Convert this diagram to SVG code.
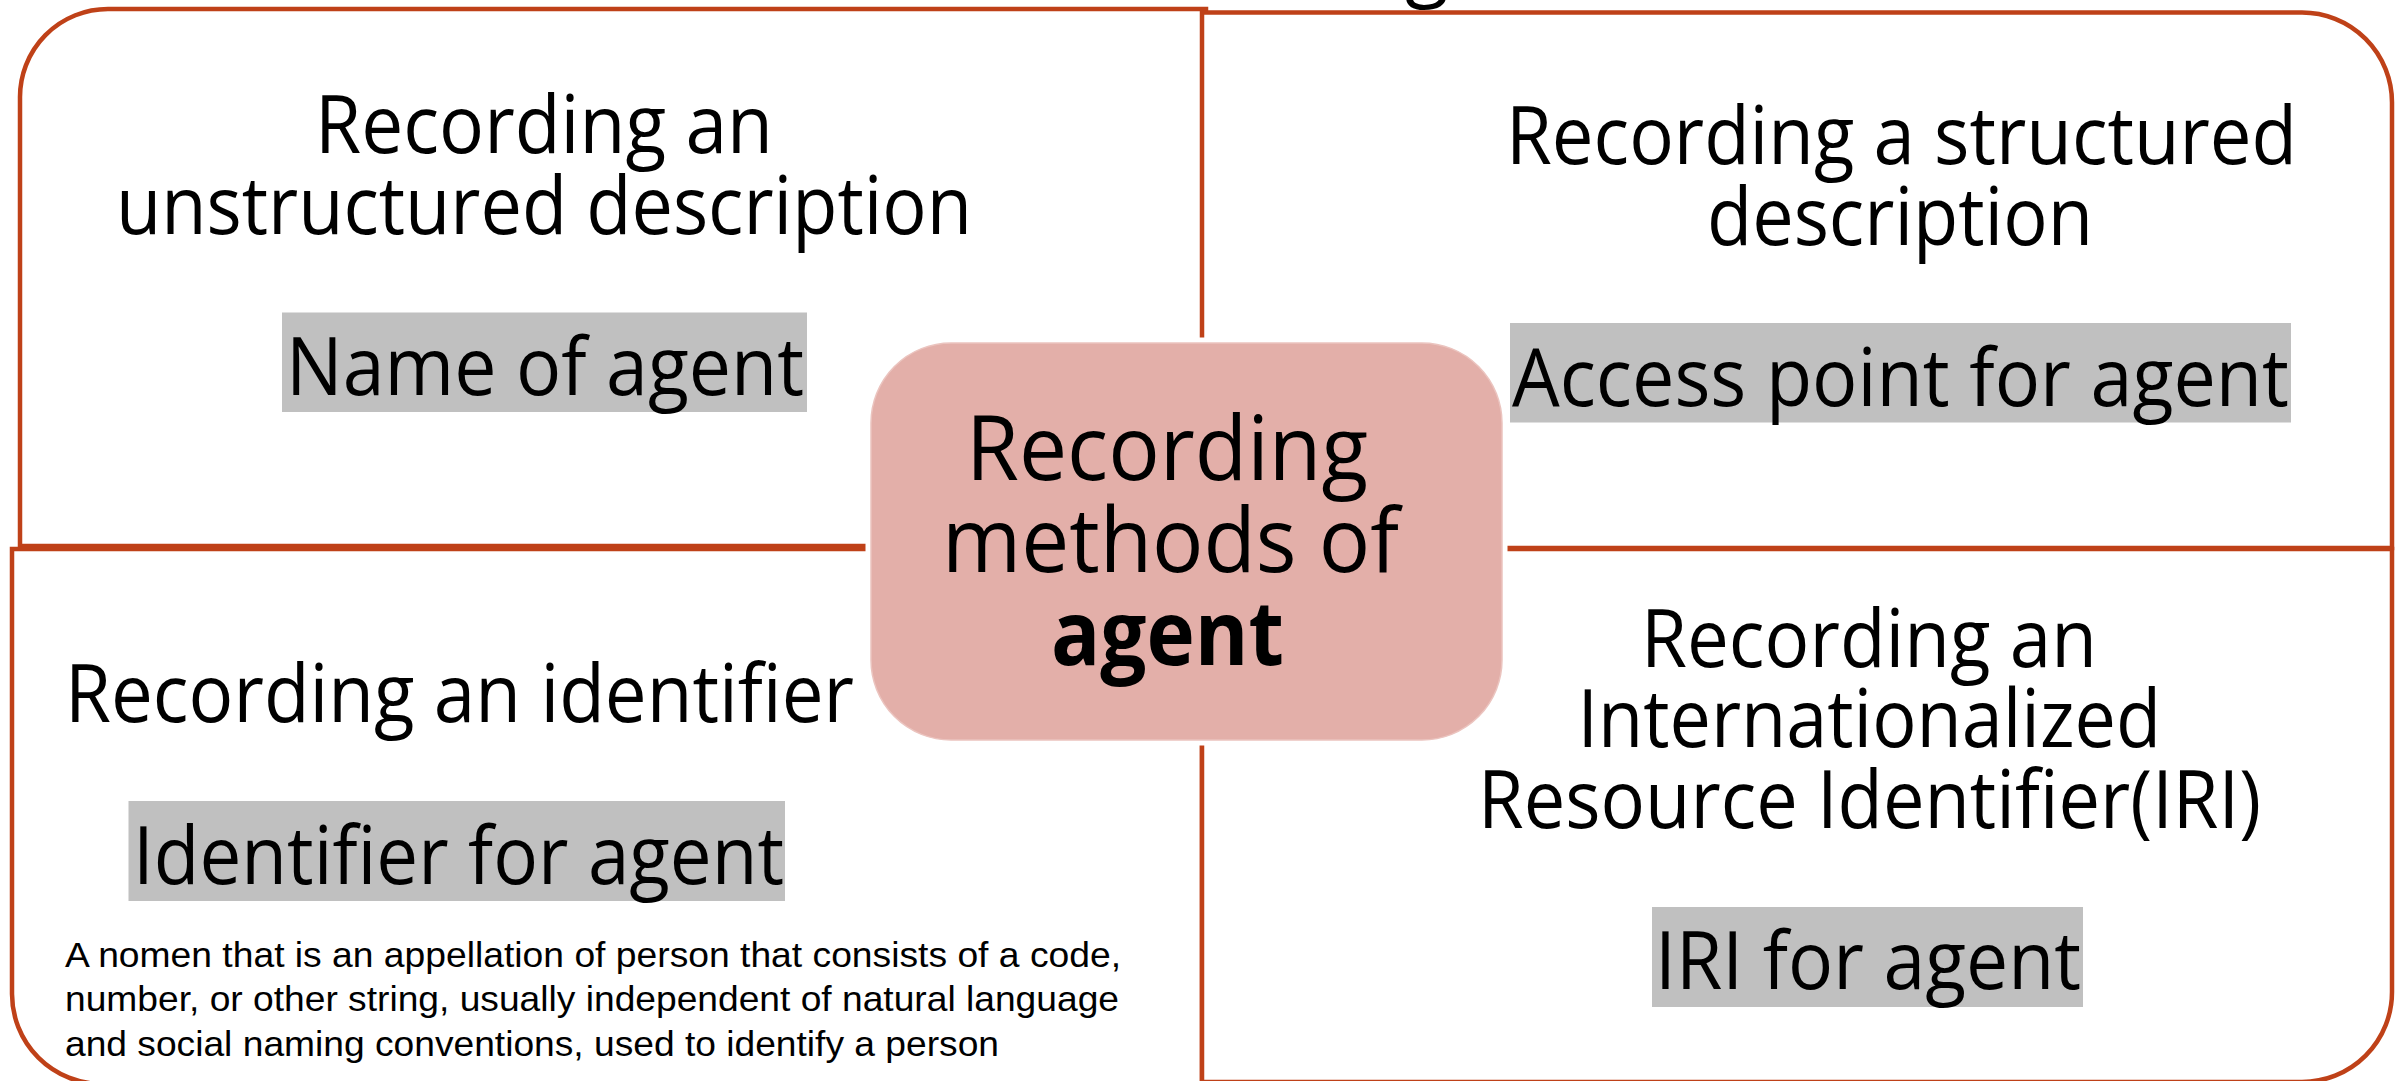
<svg xmlns="http://www.w3.org/2000/svg" width="2403" height="1081" viewBox="0 0 2403 1081">
<style>
.q{fill:#fff;stroke:#BF4118;stroke-width:4.5;stroke-linejoin:miter}
.t{font-family:"Open Sans","Noto Sans","DejaVu Sans",sans-serif;font-size:80px;fill:#000}
.c{font-family:"Open Sans","Noto Sans","DejaVu Sans",sans-serif;font-size:90px;fill:#000}
.s{font-family:"Liberation Sans",Arial,sans-serif;font-size:35px;fill:#000}
.hl{fill:#C0C0C0}
</style>
<rect width="2403" height="1081" fill="#fff"/>
<text class="t" x="1405" y="-9">g</text>
<g id="quad-tl">
<path class="q" d="M20,546 L20,98 A88,88 0 0 1 108,9 L1206,9 L1206,546 Z"/>
<text class="t" x="315" y="153" textLength="458" lengthAdjust="spacingAndGlyphs">Recording an</text>
<text class="t" x="116" y="234" textLength="856" lengthAdjust="spacingAndGlyphs">unstructured description</text>
<rect class="hl" x="282" y="312.5" width="525" height="99.5"/>
<text class="t" x="286" y="395" textLength="518" lengthAdjust="spacingAndGlyphs">Name of agent</text>
</g>
<g id="quad-tr">
<path class="q" d="M1202,12.5 L2302,12.5 A90,90 0 0 1 2392,102.5 L2392,548 L1202,548 Z"/>
<text class="t" x="1506" y="164" textLength="791" lengthAdjust="spacingAndGlyphs">Recording a structured</text>
<text class="t" x="1707" y="245" textLength="386" lengthAdjust="spacingAndGlyphs">description</text>
<rect class="hl" x="1510" y="323" width="781" height="99.5"/>
<text class="t" x="1512" y="406" textLength="777" lengthAdjust="spacingAndGlyphs">Access point for agent</text>
</g>
<g id="quad-bl">
<path class="q" d="M12,549 L1202,549 L1202,1084 L102,1084 A90,90 0 0 1 12,994 Z"/>
<text class="t" x="65" y="722" textLength="789" lengthAdjust="spacingAndGlyphs">Recording an identifier</text>
<rect class="hl" x="128.5" y="801" width="656.5" height="100"/>
<text class="t" x="133" y="884" textLength="651" lengthAdjust="spacingAndGlyphs">Identifier for agent</text>
<text class="s" x="65" y="966.5" textLength="1056" lengthAdjust="spacingAndGlyphs">A nomen that is an appellation of person that consists of a code,</text>
<text class="s" x="65" y="1011" textLength="1054" lengthAdjust="spacingAndGlyphs">number, or other string, usually independent of natural language</text>
<text class="s" x="65" y="1055.6" textLength="934" lengthAdjust="spacingAndGlyphs">and social naming conventions, used to identify a person</text>
</g>
<g id="quad-br">
<path class="q" d="M1202,549 L2392,549 L2392,992 A90,90 0 0 1 2302,1082 L1202,1082 Z"/>
<text class="t" x="1641" y="667" textLength="456" lengthAdjust="spacingAndGlyphs">Recording an</text>
<text class="t" x="1577.5" y="747" textLength="583.5" lengthAdjust="spacingAndGlyphs">Internationalized</text>
<text class="t" x="1478" y="828" textLength="783" lengthAdjust="spacingAndGlyphs">Resource Identifier(IRI)</text>
<rect class="hl" x="1652" y="907" width="431" height="100"/>
<text class="t" x="1655" y="989" textLength="426" lengthAdjust="spacingAndGlyphs">IRI for agent</text>
</g>
<g id="connectors"></g>
<g id="center">
<rect x="871" y="343" width="631" height="397" rx="80" ry="80" fill="#E3AFA9" stroke="#fff" stroke-width="11" paint-order="stroke"/>
<rect x="871" y="343" width="631" height="397" rx="80" ry="80" fill="none" stroke="#EBC4BF" stroke-width="1.5"/>
<text class="c" x="966" y="480" textLength="402" lengthAdjust="spacingAndGlyphs">Recording</text>
<text class="c" x="942" y="572" textLength="457" lengthAdjust="spacingAndGlyphs">methods of</text>
<text class="c" x="1051" y="665" font-weight="bold" textLength="233" lengthAdjust="spacingAndGlyphs">agent</text>
</g>
</svg>
